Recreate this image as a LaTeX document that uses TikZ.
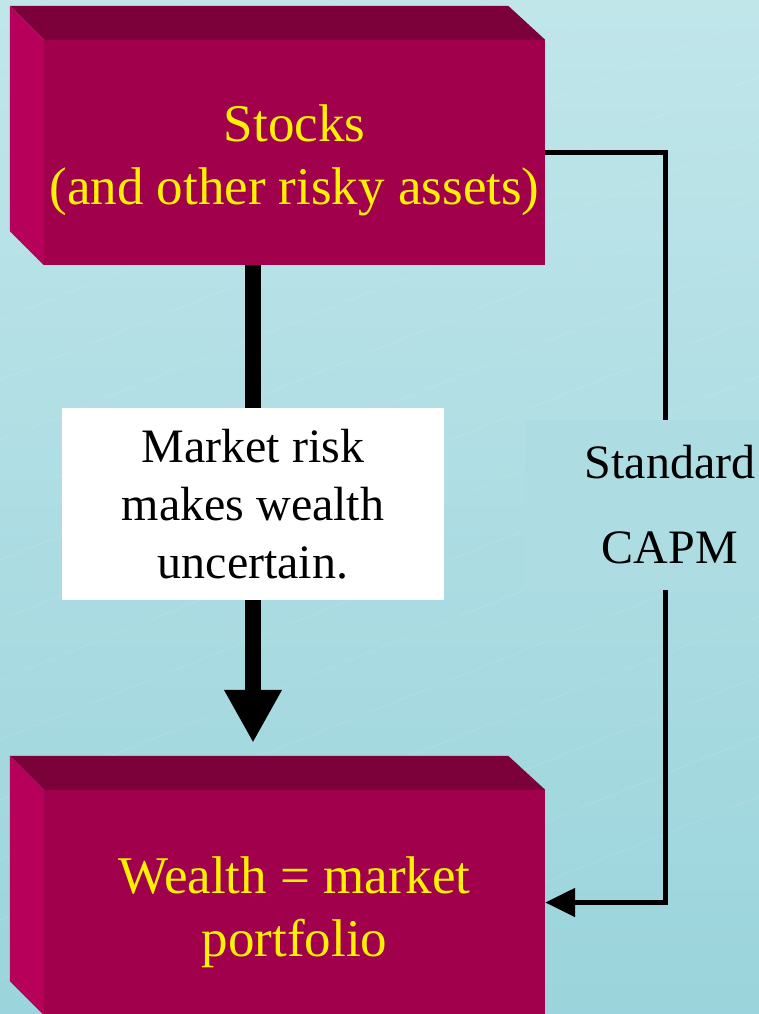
\documentclass[tikz,border=0pt]{standalone}
\usepackage{fontspec}
\setmainfont{Liberation Serif}
\usetikzlibrary{positioning,arrows.meta,calc}
\definecolor{slabfront}{HTML}{A0004C}
\definecolor{slabtop}{HTML}{7C003A}
\definecolor{slabside}{HTML}{B6005A}
\definecolor{skytop}{HTML}{C0E6EA}
\definecolor{skybottom}{HTML}{9BD4DC}
\pgfdeclarelayer{backdrop}
\pgfdeclarelayer{links}
\pgfsetlayers{backdrop,links,main}
\tikzset{
    >=Triangle,
    slab/.style={
        rectangle,
        fill=slabfront,
        text=yellow,
        align=center,
        inner sep=0pt,
        minimum width=501pt,
        minimum height=225pt,
        font=\fontsize{53}{63}\selectfont
    },
    note/.style={
        rectangle,
        fill=white,
        align=center,
        inner sep=0pt,
        minimum width=382pt,
        minimum height=192pt,
        font=\fontsize{48}{58}\selectfont
    },
    tag/.style={
        rectangle,
        fill=skytop!48!skybottom,
        align=center,
        inner sep=0pt,
        minimum width=290pt,
        minimum height=170pt,
        font=\fontsize{48}{85}\selectfont
    },
    wire/.style={line width=5pt}
}
\begin{document}
\begin{tikzpicture}[x=1pt, y=-1pt]

\useasboundingbox (0,0) rectangle (759,1014);

% background
\begin{pgfonlayer}{backdrop}
\begin{scope}
\clip (0,0) rectangle (759,1014);
\shade[top color=skytop, bottom color=skybottom] (0,0) rectangle (759,1014);
\foreach \k in {0,...,19}
    \draw[white, opacity=0.14, line width=0.5pt] (-100,60*\k) -- ++(1000,-400);
\end{scope}
\end{pgfonlayer}

\node[slab, text height=116pt] (stocks) at (294.5,152.5) {Stocks\\(and other risky assets)};
\node[slab, text height=119pt] (wealth) at (294.5,902.5) {Wealth = market\\portfolio};

% 3d faces of the slabs
\foreach \b in {stocks,wealth} {
    \fill[slabtop] (\b.north west) -- ++(-34,-34)
        -- ($(\b.north east)+(-37,-34)$) -- (\b.north east) -- cycle;
    \fill[slabside] (\b.north west) -- ++(-34,-34)
        -- ($(\b.south west)+(-34,-34)$) -- (\b.south west) -- cycle;
}

\node[note] (risk) at (253,504) {Market risk\\makes wealth\\uncertain.};
\node[tag] (capm) at (670,505) {Standard\\CAPM};
\coordinate (bend) at (665,505);

\begin{pgfonlayer}{links}
\draw[line width=16pt, -{Triangle[width=54pt,length=53pt]}, shorten >=47pt]
    (risk.center |- stocks.south) -- (risk.center |- wealth.north);
\draw[wire, -{Triangle[width=28pt,length=30pt]}]
    (stocks.east) -| (bend) |- (wealth.east);
\end{pgfonlayer}

\end{tikzpicture}
\end{document}
